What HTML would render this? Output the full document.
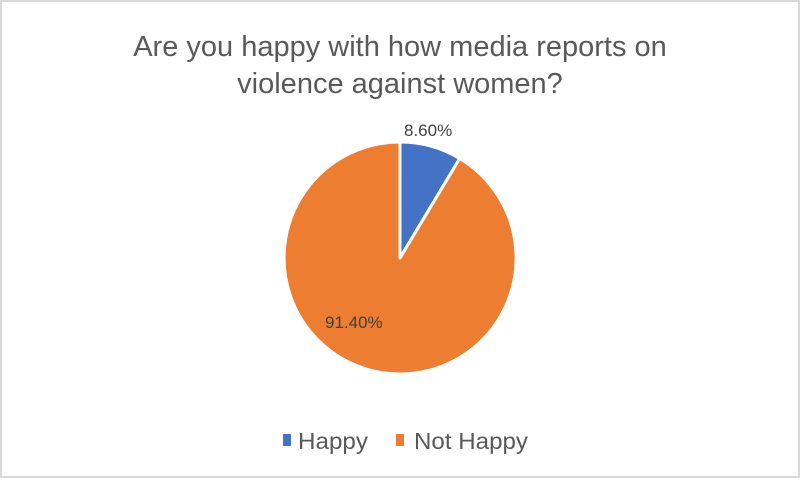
<!DOCTYPE html>
<html><head><style>
html,body{margin:0;padding:0;background:#fff}
.c{position:relative;width:796px;height:474px;border:2px solid #d9d9d9;background:#fff;overflow:hidden}
svg{position:absolute;left:-2px;top:-2px}
</style></head><body><div class="c">
<svg width="800" height="478" xmlns="http://www.w3.org/2000/svg" font-family="Liberation Sans, sans-serif">
<text x="400" y="56" text-anchor="middle" font-size="29" fill="#595959">Are you happy with how media reports on</text>
<text x="400" y="93" text-anchor="middle" font-size="29" fill="#595959">violence  against women?</text>
<path d="M400,258 L400,142 A116,116 0 0 1 459.7,158.5 Z" fill="#4472c4" stroke="#fff" stroke-width="3" stroke-linejoin="round"/>
<path d="M400,258 L459.7,158.5 A116,116 0 1 1 400,142 Z" fill="#ed7d31" stroke="#fff" stroke-width="3" stroke-linejoin="round"/>
<text x="404" y="136" font-size="17" fill="#404040">8.60%</text>
<text x="325" y="328" font-size="17" fill="#404040">91.40%</text>
<rect x="283" y="434" width="8" height="12" fill="#4472c4"/>
<text x="298" y="449" font-size="23" fill="#595959" textLength="70" lengthAdjust="spacingAndGlyphs">Happy</text>
<rect x="396" y="434" width="8" height="12" fill="#ed7d31"/>
<text x="414" y="449" font-size="23" fill="#595959" textLength="114" lengthAdjust="spacingAndGlyphs">Not Happy</text>
</svg></div></body></html>
